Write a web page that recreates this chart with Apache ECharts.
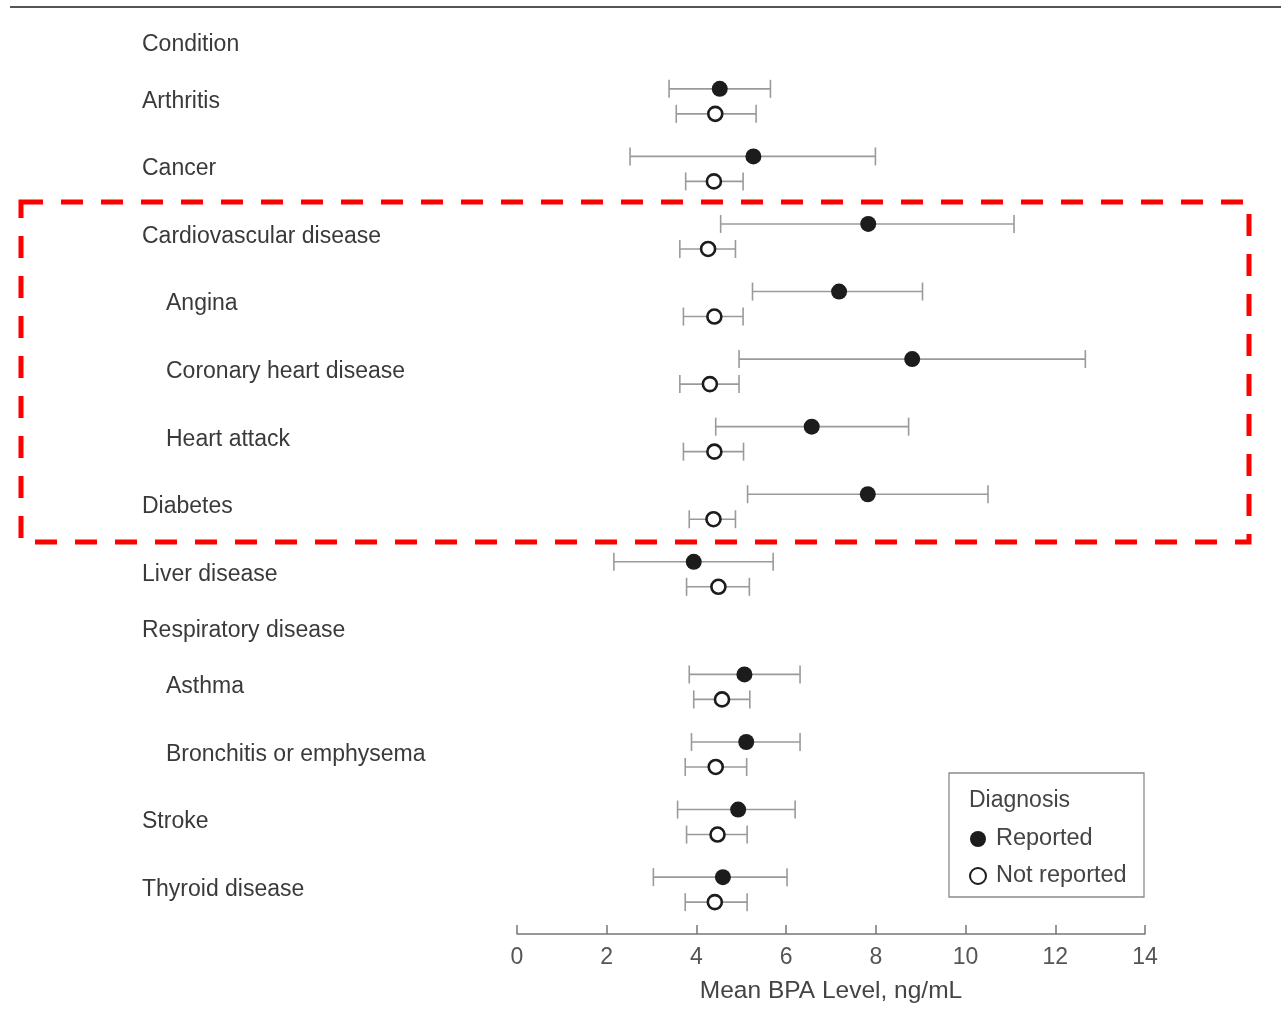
<!DOCTYPE html>
<html><head><meta charset="utf-8">
<script src="https://cdn.jsdelivr.net/npm/echarts@6/dist/echarts.min.js"></script>
<style>html,body{margin:0;padding:0;background:#fff}#c{width:1281px;height:1009px}</style>
</head><body><div id="c"></div><script>
// Rows (top to bottom) of the forest plot
const rowLabels = ['Condition','Arthritis','Cancer','Cardiovascular disease','Angina','Coronary heart disease','Heart attack','Diabetes','Liver disease','Respiratory disease','Asthma','Bronchitis or emphysema','Stroke','Thyroid disease'];
const rowIndent = [0,0,0,0,1,1,1,0,0,0,1,1,0,0];
const rowIsHeader = [1,0,0,0,0,0,0,0,0,1,0,0,0,0];

// Values for data rows, in order (Arthritis ... Thyroid disease)
const reportedMean = [4.52,5.27,7.83,7.18,8.81,6.57,7.82,3.94,5.07,5.11,4.93,4.59];
const reportedLow  = [3.39,2.52,4.54,5.25,4.95,4.43,5.14,2.16,3.84,3.89,3.58,3.04];
const reportedHigh = [5.65,7.99,11.08,9.04,12.67,8.73,10.50,5.71,6.31,6.31,6.20,6.02];
const notReportedMean = [4.42,4.39,4.26,4.40,4.30,4.40,4.38,4.49,4.57,4.43,4.47,4.41];
const notReportedLow  = [3.55,3.76,3.63,3.71,3.63,3.71,3.84,3.78,3.94,3.75,3.78,3.75];
const notReportedHigh = [5.33,5.04,4.87,5.04,4.95,5.05,4.87,5.18,5.19,5.12,5.13,5.13];

const xTickValues = [0,2,4,6,8,10,12,14];
const seriesNames = ['Reported','Not reported'];
const legendTitle = 'Diagnosis';
const xAxisTitle = 'Mean BPA Level, ng/mL';

// layout: row slot heights (header rows are shorter)
const FONT = "'Liberation Sans', Arial, Helvetica, sans-serif";
const rowPos = [];
let acc = 0;
rowLabels.forEach((l, i) => { const h = rowIsHeader[i] ? 2/3 : 1; rowPos.push(acc + h/2); acc += h; });
const dataRows = rowLabels.map((l,i)=>i).filter(i => !rowIsHeader[i]);
const OFF = 0.185;

const repPts = reportedMean.map((v,k)=>[v, rowPos[dataRows[k]] - OFF]);
const nrPts = notReportedMean.map((v,k)=>[v, rowPos[dataRows[k]] + OFF]);
const barData = [];
reportedMean.forEach((v,k)=>barData.push([reportedLow[k], reportedHigh[k], rowPos[dataRows[k]] - OFF]));
notReportedMean.forEach((v,k)=>barData.push([notReportedLow[k], notReportedHigh[k], rowPos[dataRows[k]] + OFF]));
const labelData = rowLabels.map((l,i)=>[0, rowPos[i], i]);

const chart = echarts.init(document.getElementById('c'), null, {renderer:'canvas'});
chart.setOption({
  animation: false,
  backgroundColor: '#fff',
  grid: {left: 517, right: 136, top: 22.5, bottom: 75},
  xAxis: {
    type: 'value', min: 0, max: 14, interval: 2, position: 'bottom',
    axisLine: {show: true, onZero: false, lineStyle: {color: '#777', width: 1.5}},
    axisTick: {show: true, inside: true, length: 9, lineStyle: {color: '#777', width: 1.5}},
    axisLabel: {fontSize: 23, color: '#555', fontFamily: FONT, margin: 12,
      customValues: xTickValues},
    splitLine: {show: false},
    name: xAxisTitle, nameLocation: 'middle', nameGap: 45,
    nameTextStyle: {fontSize: 24.5, color: '#444', fontFamily: FONT}
  },
  yAxis: {type: 'value', inverse: true, min: 0, max: 13.49, show: false},
  legend: {
    data: seriesNames, orient: 'vertical', left: 964, top: 822,
    itemWidth: 26, itemHeight: 16, itemGap: 13,
    textStyle: {fontSize: 23.5, color: '#444', fontFamily: FONT}
  },
  series: [
    {
      type: 'custom', name: 'labels', silent: true, clip: false,
      data: labelData,
      renderItem: function(params, api) {
        const i = api.value(2);
        const y = api.coord([0, api.value(1)])[1];
        return {type: 'text', style: {text: rowLabels[i], x: rowIndent[i] ? 166 : 142, y: y,
          fill: '#3a3a3a', font: '23px ' + FONT, verticalAlign: 'middle', textAlign: 'left'}};
      }
    },
    {
      type: 'custom', name: 'errorbars', silent: true, z: 1,
      data: barData,
      renderItem: function(params, api) {
        const p1 = api.coord([api.value(0), api.value(2)]);
        const p2 = api.coord([api.value(1), api.value(2)]);
        const st = {stroke: '#9a9a9a', lineWidth: 1.6};
        const c = 9;
        return {type: 'group', children: [
          {type: 'line', shape: {x1: p1[0], y1: p1[1], x2: p2[0], y2: p2[1]}, style: st},
          {type: 'line', shape: {x1: p1[0], y1: p1[1]-c, x2: p1[0], y2: p1[1]+c}, style: st},
          {type: 'line', shape: {x1: p2[0], y1: p2[1]-c, x2: p2[0], y2: p2[1]+c}, style: st}
        ]};
      }
    },
    {
      type: 'scatter', name: seriesNames[0], data: repPts, symbol: 'circle', symbolSize: 16, z: 3,
      itemStyle: {color: '#1c1c1c', borderColor: '#1c1c1c', borderWidth: 0, opacity: 1}
    },
    {
      type: 'scatter', name: seriesNames[1], data: nrPts, symbol: 'circle', symbolSize: 14, z: 3,
      itemStyle: {color: '#fff', borderColor: '#1c1c1c', borderWidth: 2.6, opacity: 1}
    }
  ],
  graphic: [
    {type: 'line', shape: {x1: 10, y1: 7, x2: 1281, y2: 7}, style: {stroke: '#555', lineWidth: 2}},
    {type: 'rect', shape: {x: 949, y: 773, width: 195, height: 124}, style: {fill: 'none', stroke: '#8a8a8a', lineWidth: 1.3}},
    {type: 'text', style: {text: legendTitle, x: 969, y: 801, font: '23px ' + FONT, fill: '#444', verticalAlign: 'middle'}},
    {type: 'rect', shape: {x: 21, y: 202, width: 1228, height: 340},
      style: {fill: 'none', stroke: '#ff0000', lineWidth: 5, lineDash: [22, 18]}, z: 10}
  ]
});
</script></body></html>
